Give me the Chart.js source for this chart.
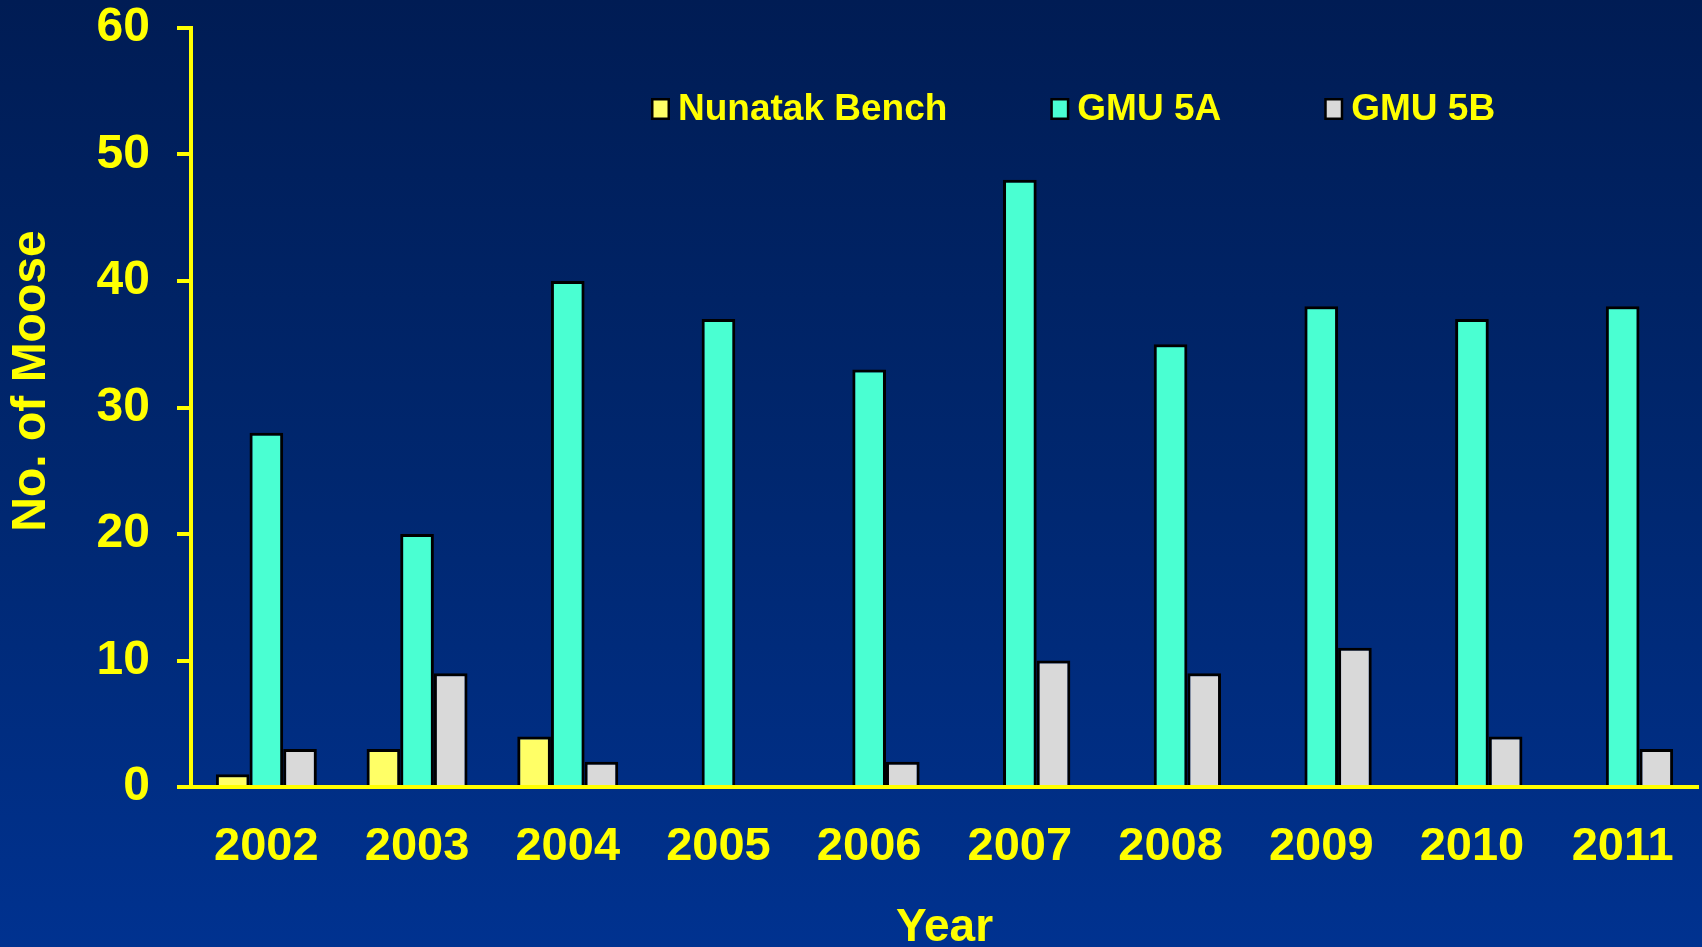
<!DOCTYPE html>
<html>
<head>
<meta charset="utf-8">
<script src="https://cdn.jsdelivr.net/npm/chart.js@4.4.1/dist/chart.umd.min.js"></script>
<style>
  html, body { margin: 0; padding: 0; }
  body {
    width: 1702px;
    height: 947px;
    overflow: hidden;
    background: linear-gradient(to bottom, #001c54 0%, #00276f 50%, #003290 100%);
  }
  #wrap { position: relative; width: 1702px; height: 947px; }
</style>
</head>
<body>
<div id="wrap"><canvas id="moose" width="1702" height="947"></canvas></div>
<script>
const years = ['2002', '2003', '2004', '2005', '2006', '2007', '2008', '2009', '2010', '2011'];
const nunatakBench = [1, 3, 4, 0, 0, 0, 0, 0, 0, 0];
const gmu5A = [28, 20, 40, 37, 33, 48, 35, 38, 37, 38];
const gmu5B = [3, 9, 2, 0, 2, 10, 9, 11, 4, 3];
const yTicks = [0, 10, 20, 30, 40, 50, 60];

const YELLOW = '#ffff00';
const FONT = "'Liberation Sans', Arial, sans-serif";

// legend and axis titles drawn by hand so they sit where the slide had them
const slideText = {
  id: 'slideText',
  afterDraw(chart) {
    const ctx = chart.ctx;
    const area = chart.chartArea;
    ctx.save();
    ctx.fillStyle = YELLOW;
    ctx.font = 'bold 48px ' + FONT;
    ctx.textAlign = 'center';
    ctx.textBaseline = 'middle';

    // y title
    ctx.save();
    ctx.translate(32, 381);
    ctx.rotate(-Math.PI / 2);
    ctx.fillText('No. of Moose', 0, 0);
    ctx.restore();

    // x title
    ctx.font = 'bold 46px ' + FONT;
    ctx.fillText('Year', (area.left + area.right) / 2, 928);

    // legend
    ctx.font = 'bold 37px ' + FONT;
    ctx.textAlign = 'left';
    let x = 651;
    const cy = 109;
    chart.data.datasets.forEach(ds => {
      ctx.fillStyle = '#000';
      ctx.fillRect(x, cy - 11, 19, 22);
      ctx.fillStyle = ds.backgroundColor;
      ctx.fillRect(x + 2.5, cy - 8.5, 14, 17);
      ctx.fillStyle = YELLOW;
      ctx.fillText(ds.label, x + 27, cy + 1);
      x += 27 + ctx.measureText(ds.label).width + 103;
    });
    ctx.restore();
  }
};

new Chart(document.getElementById('moose'), {
  type: 'bar',
  data: {
    labels: years,
    datasets: [
      { label: 'Nunatak Bench', data: nunatakBench, backgroundColor: '#ffff66' },
      { label: 'GMU 5A', data: gmu5A, backgroundColor: '#4affd2' },
      { label: 'GMU 5B', data: gmu5B, backgroundColor: '#d9d9d9' }
    ]
  },
  options: {
    responsive: false,
    animation: false,
    devicePixelRatio: 1,
    layout: { padding: { top: 28, right: 4, left: 0, bottom: 0 } },
    datasets: {
      bar: {
        borderColor: '#000000',
        borderWidth: 3,
        borderSkipped: 'bottom',
        categoryPercentage: 0.67,
        barPercentage: 1
      }
    },
    plugins: {
      legend: { display: false },
      tooltip: { enabled: false }
    },
    scales: {
      x: {
        grid: { display: false, drawTicks: false },
        border: { color: YELLOW, width: 4 },
        ticks: {
          color: YELLOW,
          padding: 32,
          font: { family: FONT, size: 47, weight: 'bold' }
        },
        afterFit: (scale) => {
          scale.height = 160;
          scale.paddingLeft = 0;
          scale.paddingRight = 0;
        }
      },
      y: {
        min: 0,
        max: 60,
        afterBuildTicks: (scale) => { scale.ticks = yTicks.map(v => ({ value: v })); },
        grid: {
          drawOnChartArea: false,
          color: YELLOW,
          tickLength: 14,
          lineWidth: 4
        },
        border: { color: YELLOW, width: 4 },
        ticks: {
          color: YELLOW,
          padding: 27,
          font: { family: FONT, size: 48, weight: 'bold' }
        },
        afterFit: (scale) => {
          scale.width = 191;
          scale.paddingTop = 0;
          scale.paddingBottom = 0;
        }
      }
    }
  },
  plugins: [slideText]
});
</script>
</body>
</html>
